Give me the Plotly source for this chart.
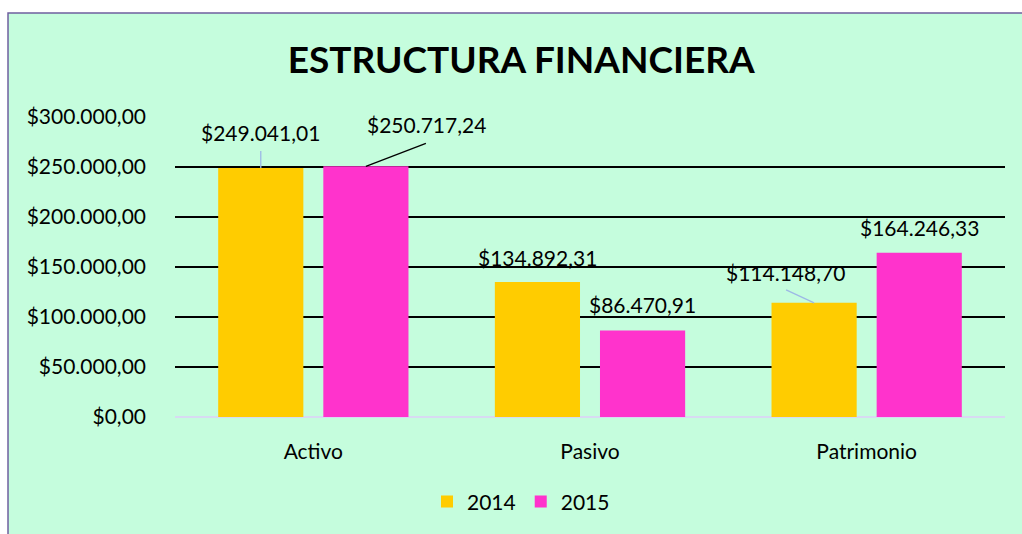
import plotly.graph_objects as go

categories = ["Activo", "Pasivo", "Patrimonio"]
years = ["2014", "2015"]
values_2014 = [249041.01, 134892.31, 114148.70]
values_2015 = [250717.24, 86470.91, 164246.33]
colors = ["#FFCC00", "#FF33CC"]
y_ticks = [0, 50000, 100000, 150000, 200000, 250000, 300000]


def fmt(v):
    s = f"{v:,.2f}"  # 1,234.56
    s = s.replace(",", "X").replace(".", ",").replace("X", ".")
    return "$" + s


FONT = "Lato"
FS = 21
BARGAP = 0.24
slot = (1 - BARGAP) / 2
xs = list(range(len(categories)))

fig = go.Figure()
for k, (name, vals) in enumerate(zip(years, [values_2014, values_2015])):
    fig.add_trace(go.Bar(
        x=xs, y=vals, name=name, marker=dict(color=colors[k], line=dict(width=0)),
        offsetgroup=name,
    ))

# label offsets (pixel) per series/category: (dx, dy) and leader (x0,y0,x1,y1) in px from bar top center
label_off = {
    (0, 0): (0, 35, (0, 0, 0, 17)),
    (1, 0): (61, 42, (0, 0, 60, 23)),
    (0, 1): (0, 25, None),
    (1, 1): (0, 26, None),
    (0, 2): (-29, 30, (0, 0, -28, 13)),
    (1, 2): (0, 25, None),
}
leader_col = {(0, 0): "#9DB8E6", (1, 0): "#000000", (0, 2): "#9DB8E6"}

for k, vals in enumerate([values_2014, values_2015]):
    for i, v in enumerate(vals):
        xc = xs[i] + (k - 0.5) * slot
        dx, dy, leader = label_off[(k, i)]
        fig.add_annotation(x=xc, y=v, text=fmt(v), showarrow=False,
                           xshift=dx, yshift=dy, font=dict(family=FONT, size=FS, color="#000"))
        if leader:
            x0, y0, x1, y1 = leader
            fig.add_shape(type="line", xref="x", yref="y", xsizemode="pixel", ysizemode="pixel",
                          xanchor=xc, yanchor=v, x0=x0, x1=x1, y0=y0, y1=y1,
                          line=dict(color=leader_col[(k, i)], width=1.3))

# chart area background with border
fig.add_shape(type="rect", xref="paper", yref="paper", x0=-0.2012, x1=1.04, y0=-0.45, y1=1.347,
              fillcolor="#C5FDDD", line=dict(color="#6F5F9F", width=1.5), layer="below")

fig.update_layout(
    width=1022, height=534,
    margin=dict(l=175, r=17, t=117, b=117),
    paper_bgcolor="white", plot_bgcolor="rgba(0,0,0,0)",
    barmode="group", bargap=BARGAP, bargroupgap=0.19,
    title=dict(text="<b>ESTRUCTURA FINANCIERA</b>", x=0.51, xref="container", xanchor="center",
               y=1 - 60 / 534, yref="container", yanchor="middle",
               font=dict(family=FONT, size=37, color="#000")),
    font=dict(family=FONT, size=FS, color="#000"),
    showlegend=True,
    legend=dict(orientation="h", x=(521 - 175) / 830, xanchor="center", y=-0.283, yanchor="middle",
                font=dict(family=FONT, size=FS), bgcolor="rgba(0,0,0,0)", itemwidth=30,
                traceorder="normal"),
)
fig.update_xaxes(tickvals=xs, ticktext=categories, range=[-0.5, 2.5], showgrid=False,
                 showline=False, zeroline=False, ticks="", ticklabelstandoff=20,
                 tickfont=dict(family=FONT, size=FS))
fig.update_yaxes(range=[0, 300000], tickvals=y_ticks, ticktext=[fmt(t) for t in y_ticks],
                 showgrid=True, gridcolor="#000000", gridwidth=1.5,
                 zeroline=True, zerolinecolor="#D8DAF2", zerolinewidth=2,
                 showline=False, ticks="", ticklabelstandoff=28,
                 tickfont=dict(family=FONT, size=FS))

fig.write_html("out.html", config={"displayModeBar": False},
               post_script="document.body.style.margin='0';document.body.style.overflow='hidden';")
